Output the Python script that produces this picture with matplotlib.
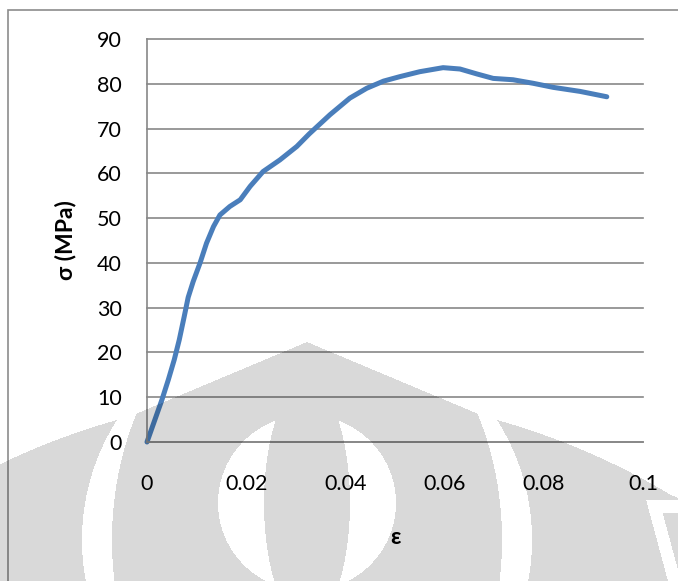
import numpy as np
import matplotlib.pyplot as plt
from matplotlib.patches import Rectangle

# stress-strain curve
strain = [0, 0.0016, 0.0030, 0.0043, 0.0055, 0.0065, 0.0075, 0.0083, 0.0093,
          0.0107, 0.0120, 0.0134, 0.0147, 0.0167, 0.0188, 0.0208, 0.0234,
          0.0268, 0.0302, 0.0327, 0.0369, 0.0409, 0.0443, 0.0477, 0.0510,
          0.0550, 0.0597, 0.0631, 0.0665, 0.0698, 0.0738, 0.0779, 0.0819,
          0.0873, 0.0927]
stress = [0, 5.0, 9.4, 13.9, 18.4, 22.8, 28.0, 32.3, 35.8,
          40.0, 44.4, 48.1, 50.7, 52.6, 54.1, 57.1, 60.4,
          63.0, 66.0, 68.8, 73.1, 76.8, 79.0, 80.6, 81.6,
          82.7, 83.6, 83.3, 82.2, 81.2, 80.9, 80.1, 79.2,
          78.3, 77.1]

x_ticks = [0, 0.02, 0.04, 0.06, 0.08, 0.1]
x_tick_labels = ['0', '0.02', '0.04', '0.06', '0.08', '0.1']
y_ticks = [0, 10, 20, 30, 40, 50, 60, 70, 80, 90]

W, H = 678, 581
plt.rcParams['font.family'] = ['Lato', 'Open Sans', 'DejaVu Sans']
grid_col = '#878787'

fig = plt.figure(figsize=(W / 100, H / 100), dpi=100)
ax = fig.add_axes([147 / W, 1 - 442 / H, 496 / W, 403 / H])

ax.plot(strain, stress, color='#4a7ebb', lw=3.6,
        solid_joinstyle='round', solid_capstyle='round', clip_on=False)
ax.set_xlim(0, 0.1)
ax.set_ylim(0, 90)
ax.set_xticks(x_ticks, x_tick_labels)
ax.set_yticks(y_ticks)
ax.tick_params(length=0, labelsize=15.5)
ax.tick_params(axis='x', pad=23)
ax.tick_params(axis='y', pad=18)
ax.yaxis.grid(True, color=grid_col, lw=1.2)
ax.set_axisbelow(True)
for l in ax.get_ygridlines():
    l.set_clip_on(False)
for s in ['top', 'right']:
    ax.spines[s].set_visible(False)
for s in ['left', 'bottom']:
    ax.spines[s].set_color(grid_col)
    ax.spines[s].set_linewidth(1.2)

ax.set_xlabel('ε', fontsize=16.5, fontweight='bold', labelpad=24)
ax.set_ylabel('σ (MPa)', fontsize=16.5, fontweight='bold', labelpad=15)

# chart frame (cut off at right and bottom)
fig.add_artist(Rectangle((8 / W, -0.5), 2, 1 - 10 / H + 0.5, transform=fig.transFigure,
                         fill=False, ec='#8c8c8c', lw=1.2))

# faint logo watermark over the page
yy, xx = np.mgrid[0:H, 0:W] + 0.5
disc = (xx - 307) ** 2 + (yy - 1100) ** 2 < 706 ** 2
dome = yy > 342 + 0.42 * np.abs(xx - 307)
gray = disc | dome
e1 = ((xx - 307) / 225) ** 2 + ((yy - 540) / 224) ** 2 < 1
e2 = ((xx - 307) / 195) ** 2 + ((yy - 540) / 260) ** 2 < 1
e3 = ((xx - 307) / 89) ** 2 + ((yy - 503) / 88) ** 2 < 1
e4 = ((xx - 307) / 43) ** 2 + ((yy - 503) / 120) ** 2 < 1
gray &= ~(e1 & ~e2)
gray &= ~(e3 & ~e4)
edge = 648 + 0.27 * (yy - 507)
gray &= ~((yy > 500) & (xx > edge))
gray |= (yy > 513) & (xx > edge + 13)

rgba = np.zeros((H, W, 4))
rgba[..., 3] = 0.15 * gray
wax = fig.add_axes([0, 0, 1, 1], zorder=10)
wax.imshow(rgba, extent=(0, W, H, 0), interpolation='nearest', aspect='auto')
wax.set_xlim(0, W)
wax.set_ylim(H, 0)
wax.axis('off')

fig.savefig('out.png', dpi=100)
